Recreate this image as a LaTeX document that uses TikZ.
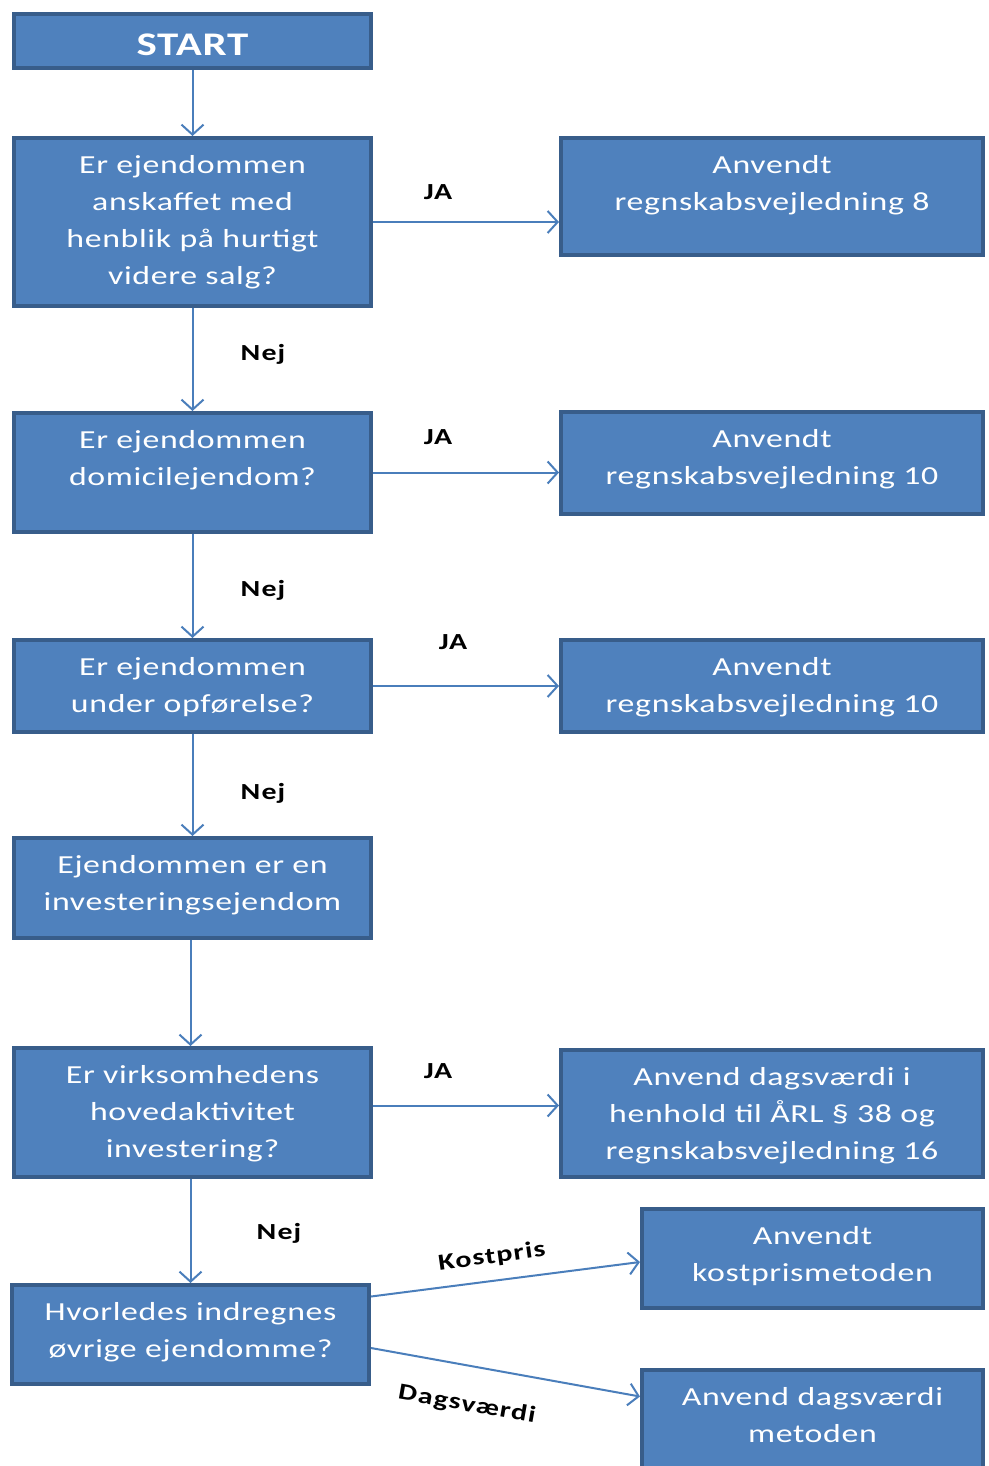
\documentclass[tikz,border=0pt]{standalone}
\usepackage{fontspec}
\setmainfont{Carlito}[FakeStretch=1.3,LetterSpace=2.5]
\newfontfamily\labfont{Carlito}[FakeStretch=1.3,LetterSpace=5]
\usetikzlibrary{arrows.meta,calc}
\definecolor{boxfill}{HTML}{4F81BD}
\definecolor{boxedge}{HTML}{385D8A}
\definecolor{arr}{HTML}{4A7EBB}
\tikzset{
  box/.style={draw=boxedge, line width=4pt, fill=boxfill, inner sep=0pt},
  boxtext/.style={anchor=north, inner sep=0pt, text=white, align=center, font=\fontsize{26}{37}\selectfont},
  lab/.style={font=\labfont\bfseries\fontsize{23}{26}\selectfont, text=black, inner sep=0pt},
  conn/.style={draw=arr, line width=2pt, -{Straight Barb[length=10pt,width=22pt,line width=2pt]}}
}
\newcommand\mkbox[6]{%
  \node[box, minimum width={#4-#2-4}, minimum height={#5-#3-4}] (#1) at ({(#2+#4)/2},{(#3+#5)/2}) {};
  \node[boxtext] (#1t) at ([yshift=-19pt]#1.north) {#6};}
\begin{document}
\begin{tikzpicture}[x=1pt,y=-1pt]
\fill[white] (0,0) rectangle (988,1466);
\useasboundingbox (0,0) rectangle (988,1466);
% start
\node[box, minimum width=357, minimum height=54] (start) at (192.5,41) {};
\node[text=white, inner sep=0pt, font=\bfseries\fontsize{33}{38}\selectfont] (startt) at (192.5,45) {START};
\mkbox{q1}{12}{136}{373}{308}{Er ejendommen\\anskaffet med\\henblik på hurtigt\\videre salg?}
\mkbox{r1}{559}{136}{985}{257}{Anvendt\\regnskabsvejledning 8}
\mkbox{q2}{12}{411}{373}{534}{Er ejendommen\\domicilejendom?}
\mkbox{r2}{559}{410}{985}{516}{Anvendt\\regnskabsvejledning 10}
\mkbox{q3}{12}{638}{373}{734}{Er ejendommen\\under opførelse?}
\mkbox{r3}{559}{638}{985}{734}{Anvendt\\regnskabsvejledning 10}
\mkbox{q4}{12}{836}{373}{940}{Ejendommen er en\\investeringsejendom}
\mkbox{q5}{12}{1046}{373}{1179}{Er virksomhedens\\hovedaktivitet\\investering?}
\mkbox{r5}{559}{1048}{985}{1179}{Anvend dagsværdi i\\henhold til ÅRL § 38 og\\regnskabsvejledning 16}
\mkbox{q6}{10}{1283}{371}{1386}{Hvorledes indregnes\\øvrige ejendomme?}
\mkbox{r6}{640}{1207}{985}{1310}{Anvendt\\kostprismetoden}
\mkbox{r7}{640}{1368}{985}{1476}{Anvend dagsværdi\\metoden}
% vertical connectors
\draw[conn] (start) -- (q1);
\draw[conn] (q1) -- (q2);
\draw[conn] (q2) -- (q3);
\draw[conn] (q3) -- (q4);
\draw[conn] ([xshift=-2pt]q4.south) -- ([xshift=-2pt]q5.north);
\draw[conn] ([xshift=-2pt]q5.south) -- ([xshift=-2pt]q5.south |- q6.north);
% horizontal connectors
\draw[conn] (q1.east) -- (q1.east -| r1.west);
\draw[conn] (q2.east) -- (q2.east -| r2.west);
\draw[conn] (q3.east) -- (q3.east -| r3.west);
\draw[conn] ([yshift=7pt]q5.east) -- ([yshift=7pt]q5.east -| r5.west);
\draw[conn] ([yshift=38pt]q6.east) -- ([yshift=-3.5pt]r6.west);
\draw[conn] ([yshift=-13.5pt]q6.east) -- ([yshift=25.5pt]r7.west);
% labels
\node[lab] (ja1) at (438,192) {JA};
\node[lab] (ja2) at (438,437) {JA};
\node[lab] (ja3) at (453,642) {JA};
\node[lab] (ja5) at (438,1071) {JA};
\node[lab] (nej1) at (263,354) {Nej};
\node[lab] (nej2) at (263,590) {Nej};
\node[lab] (nej3) at (263,793) {Nej};
\node[lab] (nej5) at (279,1233) {Nej};
\node[lab, rotate=8] (kost) at (492,1257) {Kostpris};
\node[lab, rotate=-10] (dags) at (467,1405) {Dagsværdi};
\end{tikzpicture}
\end{document}
